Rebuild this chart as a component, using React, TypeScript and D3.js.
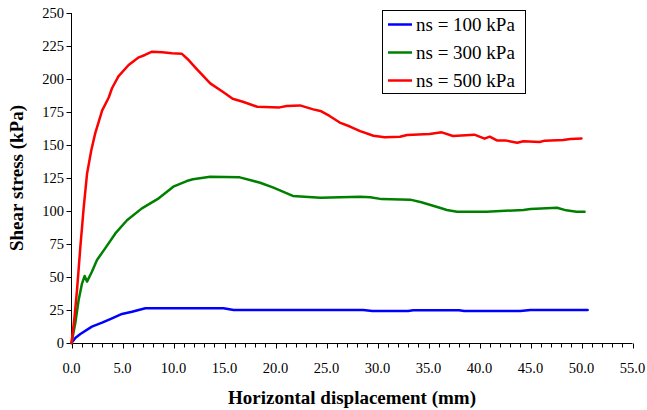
import React from "react";
import * as d3 from "d3";

// horizontal displacement (mm) / shear stress (kPa)
const x100 = [0, 0.37, 0.87, 2.0, 3.0, 3.97, 4.95, 5.93, 7.24, 9.85, 14.9, 15.9, 25.3, 28.6, 29.5, 33.0, 33.5, 38.0, 38.5, 44.0, 45.0, 50.6];
const y100 = [0, 3.8, 6.8, 12.4, 15.4, 18.7, 22.0, 23.7, 26.3, 26.3, 26.3, 25.0, 25.0, 25.0, 24.2, 24.2, 24.8, 24.8, 24.2, 24.2, 25.0, 25.0];

const x300 = [0, 0.37, 0.7, 1.03, 1.29, 1.52, 2.0, 2.5, 3.3, 4.3, 5.44, 6.9, 8.55, 9.98, 11.3, 11.9, 13.6, 16.5, 18.5, 19.8, 21.7, 24.4, 28.3, 29.3, 30.4, 33.2, 34.3, 36.1, 36.8, 37.8, 40.7, 44.3, 45.0, 47.6, 48.5, 49.5, 50.3];
const y300 = [0, 15, 32.6, 45, 50.8, 46.5, 54, 62.9, 71.7, 83, 93, 102, 109.6, 118.4, 122.7, 124, 126, 125.5, 121.4, 117.7, 111.4, 110, 110.8, 110.4, 109, 108.6, 106.6, 102.5, 100.8, 99.5, 99.5, 100.8, 101.5, 102.5, 100.5, 99.5, 99.5];

const x500 = [0, 0.3, 0.54, 0.87, 1.2, 1.52, 1.94, 2.33, 3.0, 3.65, 3.97, 4.6, 5.6, 6.6, 7.2, 7.9, 8.9, 9.85, 10.8, 11.4, 12.1, 13.6, 14.9, 15.8, 16.8, 18.2, 20.4, 21.1, 22.4, 23.7, 24.4, 25.3, 26.3, 27.3, 28.3, 29.6, 30.7, 32.2, 32.9, 35.1, 36.3, 37.4, 39.5, 40.5, 41.0, 41.7, 42.5, 43.7, 44.3, 45.9, 46.4, 48.2, 48.9, 50.0];
const y500 = [0, 20, 40, 73, 103, 128, 146, 159, 176, 186, 193, 202, 210.6, 216.4, 218.2, 220.7, 220.2, 219.5, 219.2, 215, 209, 196.7, 190, 185, 182.8, 179, 178.5, 179.5, 180, 177, 175.8, 172, 167, 164, 160.5, 157, 155.8, 156.3, 157.6, 158.3, 159.6, 156.8, 157.8, 154.8, 156.3, 153.5, 153.5, 151.7, 152.8, 152.3, 153.3, 153.8, 154.5, 155];

const seriesNames = ["ns = 100 kPa", "ns = 300 kPa", "ns = 500 kPa"];
const seriesColors = ["#0000ff", "#008000", "#ff0000"];
const yTicks = [0, 25, 50, 75, 100, 125, 150, 175, 200, 225, 250];
const xMajor = [0, 5, 10, 15, 20, 25, 30, 35, 40, 45, 50, 55];

const font = "'Liberation Serif', 'Times New Roman', serif";

export default function App() {
  const width = 647, height = 410;
  const x = d3.scaleLinear().domain([0, 55]).range([71.5, 632.5]);
  const y = d3.scaleLinear().domain([0, 250]).range([343, 13]);

  const series = [
    { xs: x100, ys: y100 },
    { xs: x300, ys: y300 },
    { xs: x500, ys: y500 },
  ];

  const line = d3
    .line<[number, number]>()
    .x(d => x(d[0]))
    .y(d => y(d[1]));

  const minor = d3.range(0, 56);

  return (
    <svg width={width} height={height} style={{ position: "absolute", left: 0, top: 0, background: "#fff" }} fontFamily={font}>
      {/* y axis */}
      <line x1={71.5} x2={71.5} y1={y(250)} y2={y(0)} stroke="#000" />
      {yTicks.map(t => (
        <g key={t}>
          <line x1={66.5} x2={71.5} y1={y(t) + 0.5} y2={y(t) + 0.5} stroke="#000" />
          <text x={64} y={y(t)} dy="0.35em" textAnchor="end" fontSize="14.5px">{t}</text>
        </g>
      ))}
      {/* x axis */}
      <line x1={71.5} x2={x(55)} y1={343.5} y2={343.5} stroke="#000" />
      {minor.map(t => (
        <line key={t} x1={Math.round(x(t)) + 0.5} x2={Math.round(x(t)) + 0.5} y1={343.5}
          y2={t % 5 === 0 ? 348.5 : 347.5} stroke="#000" />
      ))}
      {xMajor.map(t => (
        <text key={t} x={x(t)} y={368} dy="0.35em" textAnchor="middle" fontSize="14.5px">{t.toFixed(1)}</text>
      ))}

      {series.map((s, i) => (
        <path key={i} d={line(s.xs.map((v, j) => [v, s.ys[j]]) as [number, number][]) || ""}
          fill="none" stroke={seriesColors[i]} strokeWidth={2.5} strokeLinejoin="round" strokeLinecap="round" />
      ))}

      {/* axis titles */}
      <text x={352} y={404} textAnchor="middle" fontSize="19px" fontWeight="bold">Horizontal displacement (mm)</text>
      <text transform="translate(23,178) rotate(-90)" textAnchor="middle" fontSize="19px" fontWeight="bold">Shear stress (kPa)</text>

      {/* legend */}
      <rect x={382.5} y={10.5} width={143} height={83} fill="#fff" stroke="#000" />
      {seriesNames.map((n, i) => (
        <g key={n} transform={`translate(0,${24.5 + i * 28})`}>
          <line x1={388} x2={412} y1={0} y2={0} stroke={seriesColors[i]} strokeWidth={2.5} />
          <text x={416} y={0} dy="0.35em" fontSize="19px">{n}</text>
        </g>
      ))}
    </svg>
  );
}
